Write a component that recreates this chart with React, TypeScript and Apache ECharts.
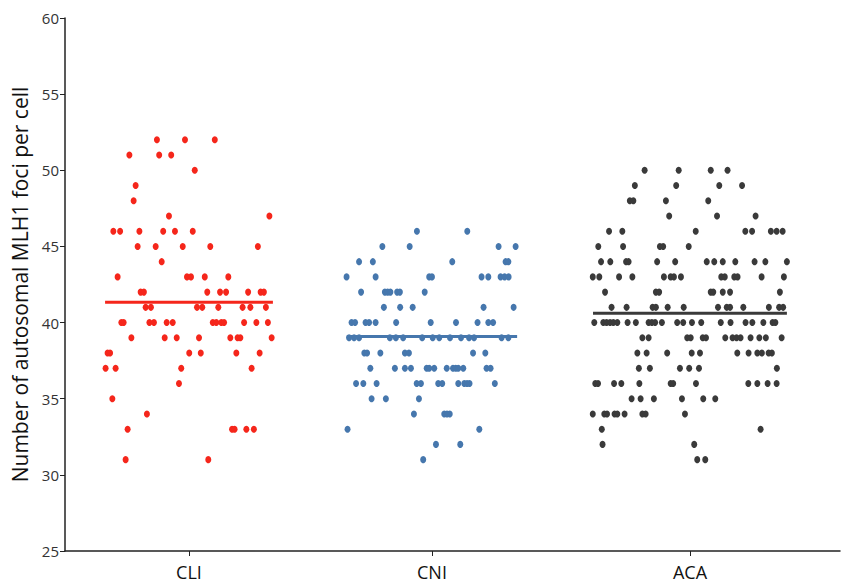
import React, { useEffect, useRef } from "react";
import * as echarts from "echarts";

const categories = ["CLI", "CNI", "ACA"];
const positions = [1, 1.97, 3];
const colors = ["#f5261b", "#4677ad", "#3a3a3a"];
const means = [41.33, 39.08, 40.61];
const meanHalfWidth = [0.335, 0.34, 0.387];
const yTicks = { min: 25, max: 60, interval: 5 };

// Each row: [value, ...horizontal jitter offsets (category units)]
const cliRows: number[][] = [
  [52, -0.128, -0.016, 0.103],
  [51, -0.238, -0.119, -0.071],
  [50, 0.023],
  [49, -0.213],
  [48, -0.221],
  [47, -0.08, 0.321],
  [46, -0.302, -0.275, -0.198, -0.103, -0.056, 0.015],
  [45, -0.205, -0.133, -0.025, 0.085, 0.275],
  [44, -0.109],
  [43, -0.285, -0.008, 0.008, 0.063, 0.157],
  [42, -0.193, -0.18, 0.073, 0.124, 0.148, 0.236, 0.286, 0.299],
  [41, -0.173, -0.152, 0.032, 0.053, 0.117, 0.214, 0.245, 0.307],
  [40, -0.27, -0.261, -0.158, -0.14, -0.089, -0.065, 0.095, 0.109, 0.129, 0.14, 0.22, 0.269, 0.315],
  [39, -0.23, -0.097, -0.049, 0.04, 0.165, 0.194, 0.205, 0.33],
  [38, -0.325, -0.315, 0.001, 0.047, 0.189, 0.282],
  [37, -0.333, -0.293, -0.031, 0.25],
  [36, -0.04],
  [35, -0.306],
  [34, -0.168],
  [33, -0.245, 0.172, 0.182, 0.229, 0.259],
  [31, -0.253, 0.077],
];

const cniRows: number[][] = [
  [46, -0.06, 0.141],
  [45, -0.198, -0.089, 0.266, 0.334],
  [44, -0.291, -0.236, 0.081, 0.294, 0.305],
  [43, -0.341, -0.225, -0.011, 0.0, 0.198, 0.225, 0.274, 0.29, 0.306],
  [42, -0.283, -0.188, -0.177, -0.166, -0.139, -0.128, -0.029],
  [41, -0.192, -0.127, -0.077, 0.206, 0.326],
  [40, -0.321, -0.307, -0.265, -0.251, -0.225, -0.143, -0.005, 0.096, 0.182, 0.225, 0.244],
  [39, -0.331, -0.311, -0.291, -0.168, -0.144, -0.115, -0.039, 0.003, 0.029, 0.072, 0.116, 0.148, 0.168, 0.278, 0.305],
  [38, -0.27, -0.259, -0.206, -0.108, -0.092, 0.164, 0.213],
  [37, -0.246, -0.148, -0.108, -0.084, -0.021, -0.011, 0.009, 0.059, 0.084, 0.095, 0.105, 0.125, 0.218, 0.234],
  [36, -0.303, -0.274, -0.221, -0.061, -0.044, 0.025, 0.041, 0.105, 0.129, 0.14, 0.15, 0.251],
  [35, -0.241, -0.184, -0.052],
  [34, -0.072, 0.049, 0.06, 0.071],
  [33, -0.337, 0.189],
  [32, 0.016, 0.113],
  [31, -0.035],
];

const acaRows: number[][] = [
  [50, -0.181, -0.045, 0.083, 0.15],
  [49, -0.22, -0.055, 0.117, 0.208],
  [48, -0.24, -0.226, -0.096, 0.073],
  [47, -0.083, 0.108, 0.262],
  [46, -0.323, -0.27, 0.023, 0.221, 0.248, 0.323, 0.346, 0.37],
  [45, -0.366, -0.267, -0.12, -0.107, -0.005],
  [44, -0.355, -0.318, -0.255, -0.245, -0.131, -0.059, 0.067, 0.097, 0.131, 0.181, 0.258, 0.301, 0.387],
  [43, -0.388, -0.362, -0.283, -0.23, -0.104, -0.077, -0.064, -0.036, 0.125, 0.139, 0.177, 0.19, 0.286, 0.375],
  [42, -0.339, -0.136, -0.123, 0.083, 0.093, 0.131, 0.16, 0.359],
  [41, -0.313, -0.253, -0.149, -0.136, -0.089, -0.025, 0.112, 0.147, 0.16, 0.213, 0.315, 0.356, 0.372],
  [40, -0.382, -0.346, -0.333, -0.319, -0.306, -0.29, -0.249, -0.216, -0.165, -0.152, -0.139, -0.112, -0.051, -0.027, 0.008, 0.045, 0.123, 0.162, 0.222, 0.249, 0.293, 0.33, 0.341],
  [39, -0.19, -0.165, -0.011, 0.003, 0.051, 0.064, 0.141, 0.17, 0.186, 0.202, 0.242, 0.277, 0.303, 0.366],
  [38, -0.21, -0.173, -0.091, 0.007, 0.04, 0.189, 0.234, 0.269, 0.287, 0.314, 0.327],
  [37, -0.204, -0.16, -0.04, -0.003, 0.036, 0.347],
  [36, -0.378, -0.367, -0.303, -0.274, -0.202, -0.077, -0.067, 0.024, 0.233, 0.269, 0.31, 0.346],
  [35, -0.233, -0.197, -0.144, -0.032, 0.053, 0.101],
  [34, -0.388, -0.342, -0.331, -0.301, -0.29, -0.261, -0.19, -0.177, -0.02],
  [33, -0.352, 0.282],
  [32, -0.349, 0.017],
  [31, 0.029, 0.061],
];

const groups = [cliRows, cniRows, acaRows];

export default function App() {
  const ref = useRef<HTMLDivElement>(null);
  useEffect(() => {
    if (!ref.current) return;
    const chart = echarts.init(ref.current, null, { renderer: "svg" });
    const series: any[] = [];
    groups.forEach((rows, gi) => {
      const data: number[][] = [];
      rows.forEach((row) => {
        const v = row[0];
        for (let k = 1; k < row.length; k++) data.push([positions[gi] + row[k], v]);
      });
      series.push({
        type: "scatter",
        name: categories[gi],
        data,
        symbol: "circle",
        symbolSize: [6, 7],
        itemStyle: { color: colors[gi], opacity: 1 },
        z: 2,
      });
      series.push({
        type: "line",
        data: [
          [positions[gi] - meanHalfWidth[gi], means[gi]],
          [positions[gi] + meanHalfWidth[gi], means[gi]],
        ],
        showSymbol: false,
        symbol: "none",
        lineStyle: { color: colors[gi], width: 3 },
        z: 3,
      });
    });
    chart.setOption({
      animation: false,
      backgroundColor: "#ffffff",
      grid: { left: 65, right: 8, top: 18, bottom: 37, containLabel: false },
      xAxis: {
        type: "value",
        min: 0.505,
        max: 3.599,
        splitLine: { show: false },
        axisLine: { show: true, lineStyle: { color: "#222", width: 1.5 } },
        axisTick: { show: true, customValues: positions, length: 5, lineStyle: { color: "#222" } },
        axisLabel: {
          customValues: positions,
          formatter: (v: number) => {
            const i = positions.findIndex((p) => Math.abs(p - v) < 1e-6);
            return i >= 0 ? categories[i] : "";
          },
          color: "#111",
          fontSize: 18,
          fontFamily: "Open Sans",
          margin: 12,
        },
      },
      yAxis: {
        type: "value",
        min: yTicks.min,
        max: yTicks.max,
        interval: yTicks.interval,
        name: "Number of autosomal MLH1 foci per cell",
        nameLocation: "middle",
        nameGap: 29,
        nameTextStyle: { fontSize: 21, color: "#111", fontFamily: "Open Sans" },
        splitLine: { show: false },
        axisLine: { show: true, lineStyle: { color: "#222", width: 1.5 } },
        axisTick: { show: true, length: 5, lineStyle: { color: "#222" } },
        axisLabel: { color: "#333", fontSize: 15, fontFamily: "Open Sans", margin: 6 },
      },
      series,
    });
    return () => chart.dispose();
  }, []);
  return (
    <div
      ref={ref}
      style={{ position: "fixed", left: 0, top: 0, width: 848, height: 588, background: "#fff" }}
    />
  );
}
